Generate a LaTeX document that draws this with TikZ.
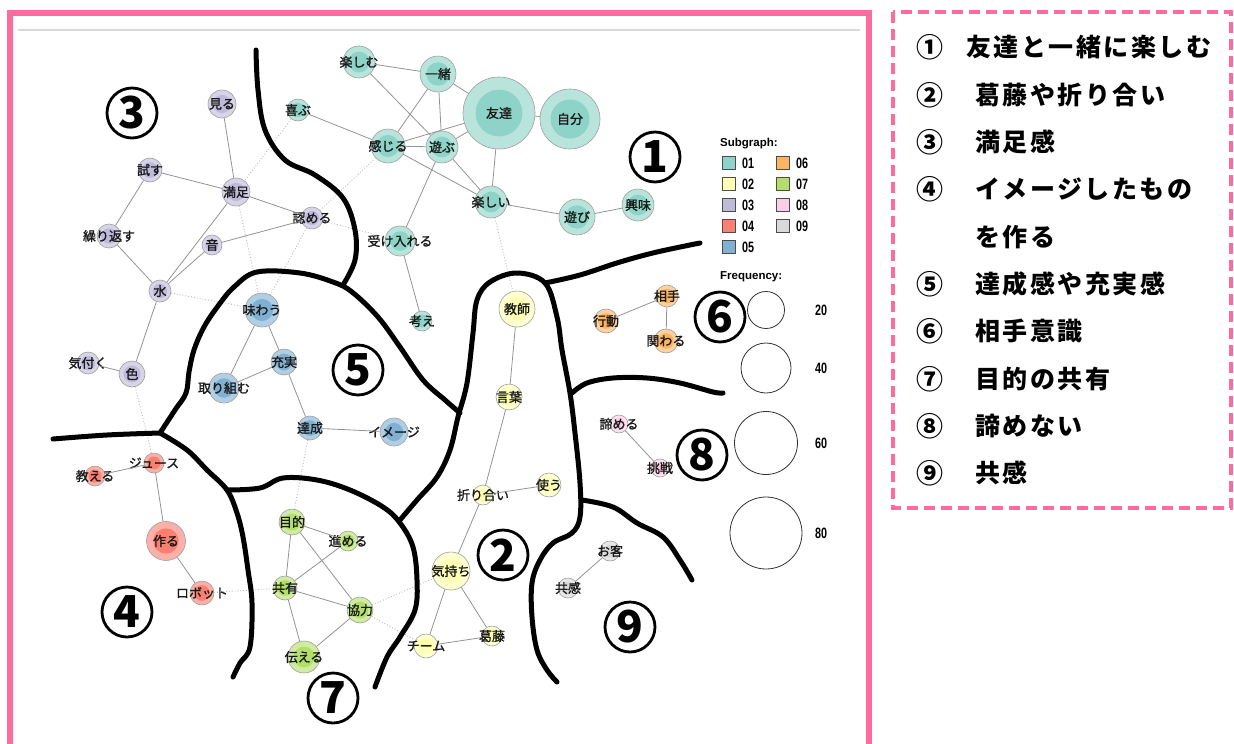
\documentclass[tikz,border=0pt]{standalone}
\usepackage{fontspec}
\setmainfont{Noto Sans CJK JP}
\newfontfamily\jpfont{Noto Sans CJK JP}
\newfontfamily\wordfont[FakeBold=1.2]{Noto Sans CJK JP}
\newfontfamily\listfont[LetterSpace=10]{Noto Sans CJK JP}
\newfontfamily\legfont{Liberation Sans}
\newfontfamily\narrowfont[FakeStretch=0.72]{Liberation Sans}
\usetikzlibrary{calc}

% サブグラフの色
\definecolor{sgA}{HTML}{8DD3C7}
\definecolor{sgB}{HTML}{FFFFB3}
\definecolor{sgC}{HTML}{BEBADA}
\definecolor{sgD}{HTML}{FB8072}
\definecolor{sgE}{HTML}{80B1D3}
\definecolor{sgF}{HTML}{FDB462}
\definecolor{sgG}{HTML}{B3DE69}
\definecolor{sgH}{HTML}{FCCDE5}
\definecolor{sgI}{HTML}{D9D9D9}
\definecolor{framepink}{HTML}{FF6B9E}

\tikzset{
  word/.style={circle, draw=gray!75, line width=0.6pt, inner sep=0pt, fill=#1!62!white},
  wlabel/.style={font=\wordfont\fontsize{13}{13}\selectfont, text=black!90, inner sep=0pt},
  tie/.style={gray!85, line width=0.8pt},
  weak/.style={gray!55, line width=0.9pt, dotted},
  border/.style={black, line width=5pt, line cap=round, line join=round},
  clusnum/.style={circle, draw=black, line width=2.8pt, minimum size=50pt, inner sep=0pt,
    font=\jpfont\bfseries\fontsize{44}{44}\selectfont},
  legbox/.style={draw=gray!60!black, line width=0.6pt, minimum size=13pt, inner sep=0pt},
  legtext/.style={font=\narrowfont\bfseries\fontsize{15}{15}\selectfont, inner sep=0pt},
  legtitle/.style={font=\legfont\bfseries\fontsize{11.5}{12}\selectfont, inner sep=0pt, anchor=west},
  freqc/.style={circle, draw=black!80, line width=0.8pt, inner sep=0pt},
  listtext/.style={font=\listfont\bfseries\fontsize{25}{25}\selectfont, inner sep=0pt, anchor=west},
  listnum/.style={font=\jpfont\bfseries\fontsize{27}{27}\selectfont, inner sep=0pt}
}

\begin{document}
\begin{tikzpicture}[x=1pt,y=-1pt]
    \useasboundingbox (0,0) rectangle (1234,744);

    % 外枠
    \draw[framepink, line width=6pt] (10,744) -- (10,13) -- (869,13) -- (869,744);
    \draw[gray!30, line width=1.5pt] (18,30) -- (860,30);

    % 語
    \foreach \n/\x/\y/\r/\c/\t in {
      tanoshimu/359/62/16/sgA/楽しむ, issho/438/74/18/sgA/一緒,
      tomodachi/499/113/36/sgA/友達, jibun/570/119/30/sgA/自分,
      yorokobu/298/110/11/sgA/喜ぶ, kanjiru/388/146/17/sgA/感じる,
      asobu/442/147/16/sgA/遊ぶ, tanoshii/491/202/16/sgA/楽しい,
      asobi/577/217/18/sgA/遊び, kyoumi/638/205/16/sgA/興味,
      ukeireru/400/241/15/sgA/受け入れる, kangae/422/321/10/sgA/考え,
      kyoushi/517/309/18/sgB/教師, kotoba/509/397/13/sgB/言葉,
      tsukau/549/485/12/sgB/使う, oriai/483/495/10/sgB/折り合い,
      kimochi/451/571/19/sgB/気持ち, kattou/492/636/10/sgB/葛藤,
      team/426/646/12/sgB/チーム,
      miru/222/104/14/sgC/見る, tamesu/150/170/12/sgC/試す,
      manzoku/236/192/14/sgC/満足, mitomeru/312/218/11/sgC/認める,
      kurikaesu/109/236/12/sgC/繰り返す, oto/212/245/10/sgC/音,
      mizu/160/291/11/sgC/水, kiduku/88/363/11/sgC/気付く,
      iro/132/374/13/sgC/色,
      juice/154/463/10/sgD/ジュース, oshieru/95/476/10/sgD/教える,
      tsukuru/166/541/19.5/sgD/作る, robot/202/593/12/sgD/ロボット,
      ajiwau/262/310/17/sgE/味わう, juujitsu/284/362/13/sgE/充実,
      torikumu/224/388/15/sgE/取り組む, tassei/310/428/12/sgE/達成,
      image/394/432/14/sgE/イメージ,
      aite/667/296/11/sgF/相手, koudou/606/321/12/sgF/行動,
      kakawaru/666/341/12/sgF/関わる,
      mokuteki/292/522/13/sgG/目的, susumeru/348/541/10/sgG/進める,
      kyouyuu/285/588/12/sgG/共有, kyouryoku/360/610/13/sgG/協力,
      tsutaeru/304/657/16/sgG/伝える,
      akirameru/619/424/9/sgH/諦める, chousen/660/468/9/sgH/挑戦,
      okyaku/610/551/10/sgI/お客, kyoukan/568/588/10/sgI/共感}
    {
      \node[word=\c, minimum size={2*\r pt}] (\n) at (\x,\y) {};
      \fill[\c] (\n.center) circle ({0.65*\r pt});
      \node[wlabel] at (\n.center) {\t};
    }

    % 共起
    \foreach \a/\b in {tanoshimu/issho, tanoshimu/asobu, issho/kanjiru, issho/asobu,
      issho/tomodachi, tomodachi/kanjiru, tomodachi/asobu, tomodachi/jibun,
      tomodachi/tanoshii, kanjiru/asobu, kanjiru/tanoshii, asobu/tanoshii,
      asobu/ukeireru, yorokobu/kanjiru, tanoshii/asobi, asobi/kyoumi,
      ukeireru/kangae,
      miru/manzoku, tamesu/manzoku, tamesu/kurikaesu, kurikaesu/mizu,
      manzoku/mitomeru, manzoku/mizu, oto/mitomeru, oto/mizu, mizu/iro, iro/kiduku,
      ajiwau/torikumu, ajiwau/juujitsu, torikumu/juujitsu, juujitsu/tassei, tassei/image,
      juice/oshieru, juice/tsukuru, tsukuru/robot,
      mokuteki/susumeru, mokuteki/kyouyuu, mokuteki/kyouryoku, susumeru/kyouyuu,
      kyouyuu/kyouryoku, kyouyuu/tsutaeru, kyouryoku/tsutaeru,
      kyoushi/kotoba, kotoba/oriai, oriai/tsukau, oriai/kimochi, kimochi/team,
      kimochi/kattou, team/kattou,
      aite/koudou, aite/kakawaru, akirameru/chousen, okyaku/kyoukan}
      \draw[tie] (\a) -- (\b);

    \foreach \a/\b in {yorokobu/manzoku, kanjiru/mitomeru, mitomeru/ukeireru,
      manzoku/ajiwau, mitomeru/ajiwau, mizu/ajiwau, iro/juice, tanoshii/kyoushi,
      tassei/mokuteki, robot/kyouyuu, kyouryoku/kimochi, kyouryoku/team}
      \draw[weak] (\a) -- (\b);

    % 手書きの境界線
    \draw[border] plot[smooth, tension=0.6] coordinates {(256,50) (258,90) (265,130)
      (285,160) (315,175) (343,198) (355,230) (355,260) (343,285)};
    \draw[border] plot[smooth, tension=0.6] coordinates {(160,433) (175,410) (186,393)
      (189,372) (194,350) (204,327) (218,306) (234,287) (257,272) (300,273) (333,282)
      (352,292) (378,317) (400,347) (423,380) (445,400) (460,413)};
    \draw[border] plot[smooth, tension=0.6] coordinates {(400,520) (417,500) (437,477)
      (450,450) (458,417) (467,383) (473,333) (477,300) (490,282) (517,273) (545,283)
      (557,317) (562,350) (570,393) (575,433) (580,483) (580,517) (572,533) (553,543)
      (540,560) (532,583) (532,617) (537,650) (547,670) (557,682)};
    \draw[border] plot[smooth, tension=0.6] coordinates {(545,283) (580,275) (620,262)
      (657,252) (700,243)};
    \draw[border] plot[smooth, tension=0.6] coordinates {(572,393) (587,383) (613,378)
      (647,378) (680,383) (713,392) (723,393)};
    \draw[border] plot[smooth, tension=0.6] coordinates {(582,500) (613,507) (637,523)
      (663,537) (680,560) (692,580)};
    \draw[border] plot[smooth, tension=0.6] coordinates {(53,439) (107,435) (160,433)};
    \draw[border] plot[smooth, tension=0.6] coordinates {(160,433) (187,450) (207,470)
      (227,490) (237,513) (243,537) (248,570) (252,603) (250,647) (240,663) (233,677)};
    \draw[border] plot[smooth, tension=0.6] coordinates {(227,490) (260,488) (283,478)
      (317,480) (350,490) (383,507) (400,523) (413,547) (417,580) (415,610) (400,637)
      (387,657) (375,687)};

    % クラスター番号
    \node[clusnum] (num1) at (655,157) {1};
    \node[clusnum] (num2) at (503,555) {2};
    \node[clusnum] (num3) at (132,113) {3};
    \node[clusnum] (num4) at (127,612) {4};
    \node[clusnum] (num5) at (358,370) {5};
    \node[clusnum] (num6) at (720,317) {6};
    \node[clusnum] (num7) at (333,698) {7};
    \node[clusnum] (num8) at (702,455) {8};
    \node[clusnum] (num9) at (630,627) {9};

    % 凡例
    \node[legtitle] (subg) at (720,144) {Subgraph:};
    \foreach \c/\t/\x/\y in {sgA/01/729/163, sgB/02/729/184, sgC/03/729/205,
      sgD/04/729/226, sgE/05/729/247, sgF/06/783/163, sgG/07/783/184,
      sgH/08/783/205, sgI/09/783/226}
    {
      \node[legbox, fill=\c] (box\t) at (\x,\y) {};
      \node[legtext, anchor=west, xshift=6pt] at (box\t.east) {\t};
    }
    \node[legtitle] (freq) at (720,277) {Frequency:};
    \foreach \v/\y/\r in {20/310/18.5, 40/368/25, 60/443/31.5, 80/533/36}
    {
      \node[freqc, minimum size={2*\r pt}] (fc\v) at (766,\y) {};
      \node[legtext] (fl\v) at (821,\y) {\v};
    }

    % 説明の枠
    \draw[framepink, line width=4.5pt, dash pattern=on 11pt off 6pt]
        (893,12) rectangle (1231,508);
    \node[listnum] (it1) at (930,47) {①};
    \node[listtext] at (966,47) {友達と一緒に楽しむ};
    \foreach \k/\y/\t in {②/95/葛藤や折り合い, ③/142/満足感, ④/189/イメージしたもの,
      ⑤/284/達成感や充実感, ⑥/331/相手意識, ⑦/379/目的の共有, ⑧/426/諦めない,
      ⑨/473/共感}
    {
      \node[listnum] at (930,\y) {\k};
      \node[listtext] at (975,\y) {\t};
    }
    \node[listtext] (it4b) at (975,237) {を作る};
\end{tikzpicture}
\end{document}
